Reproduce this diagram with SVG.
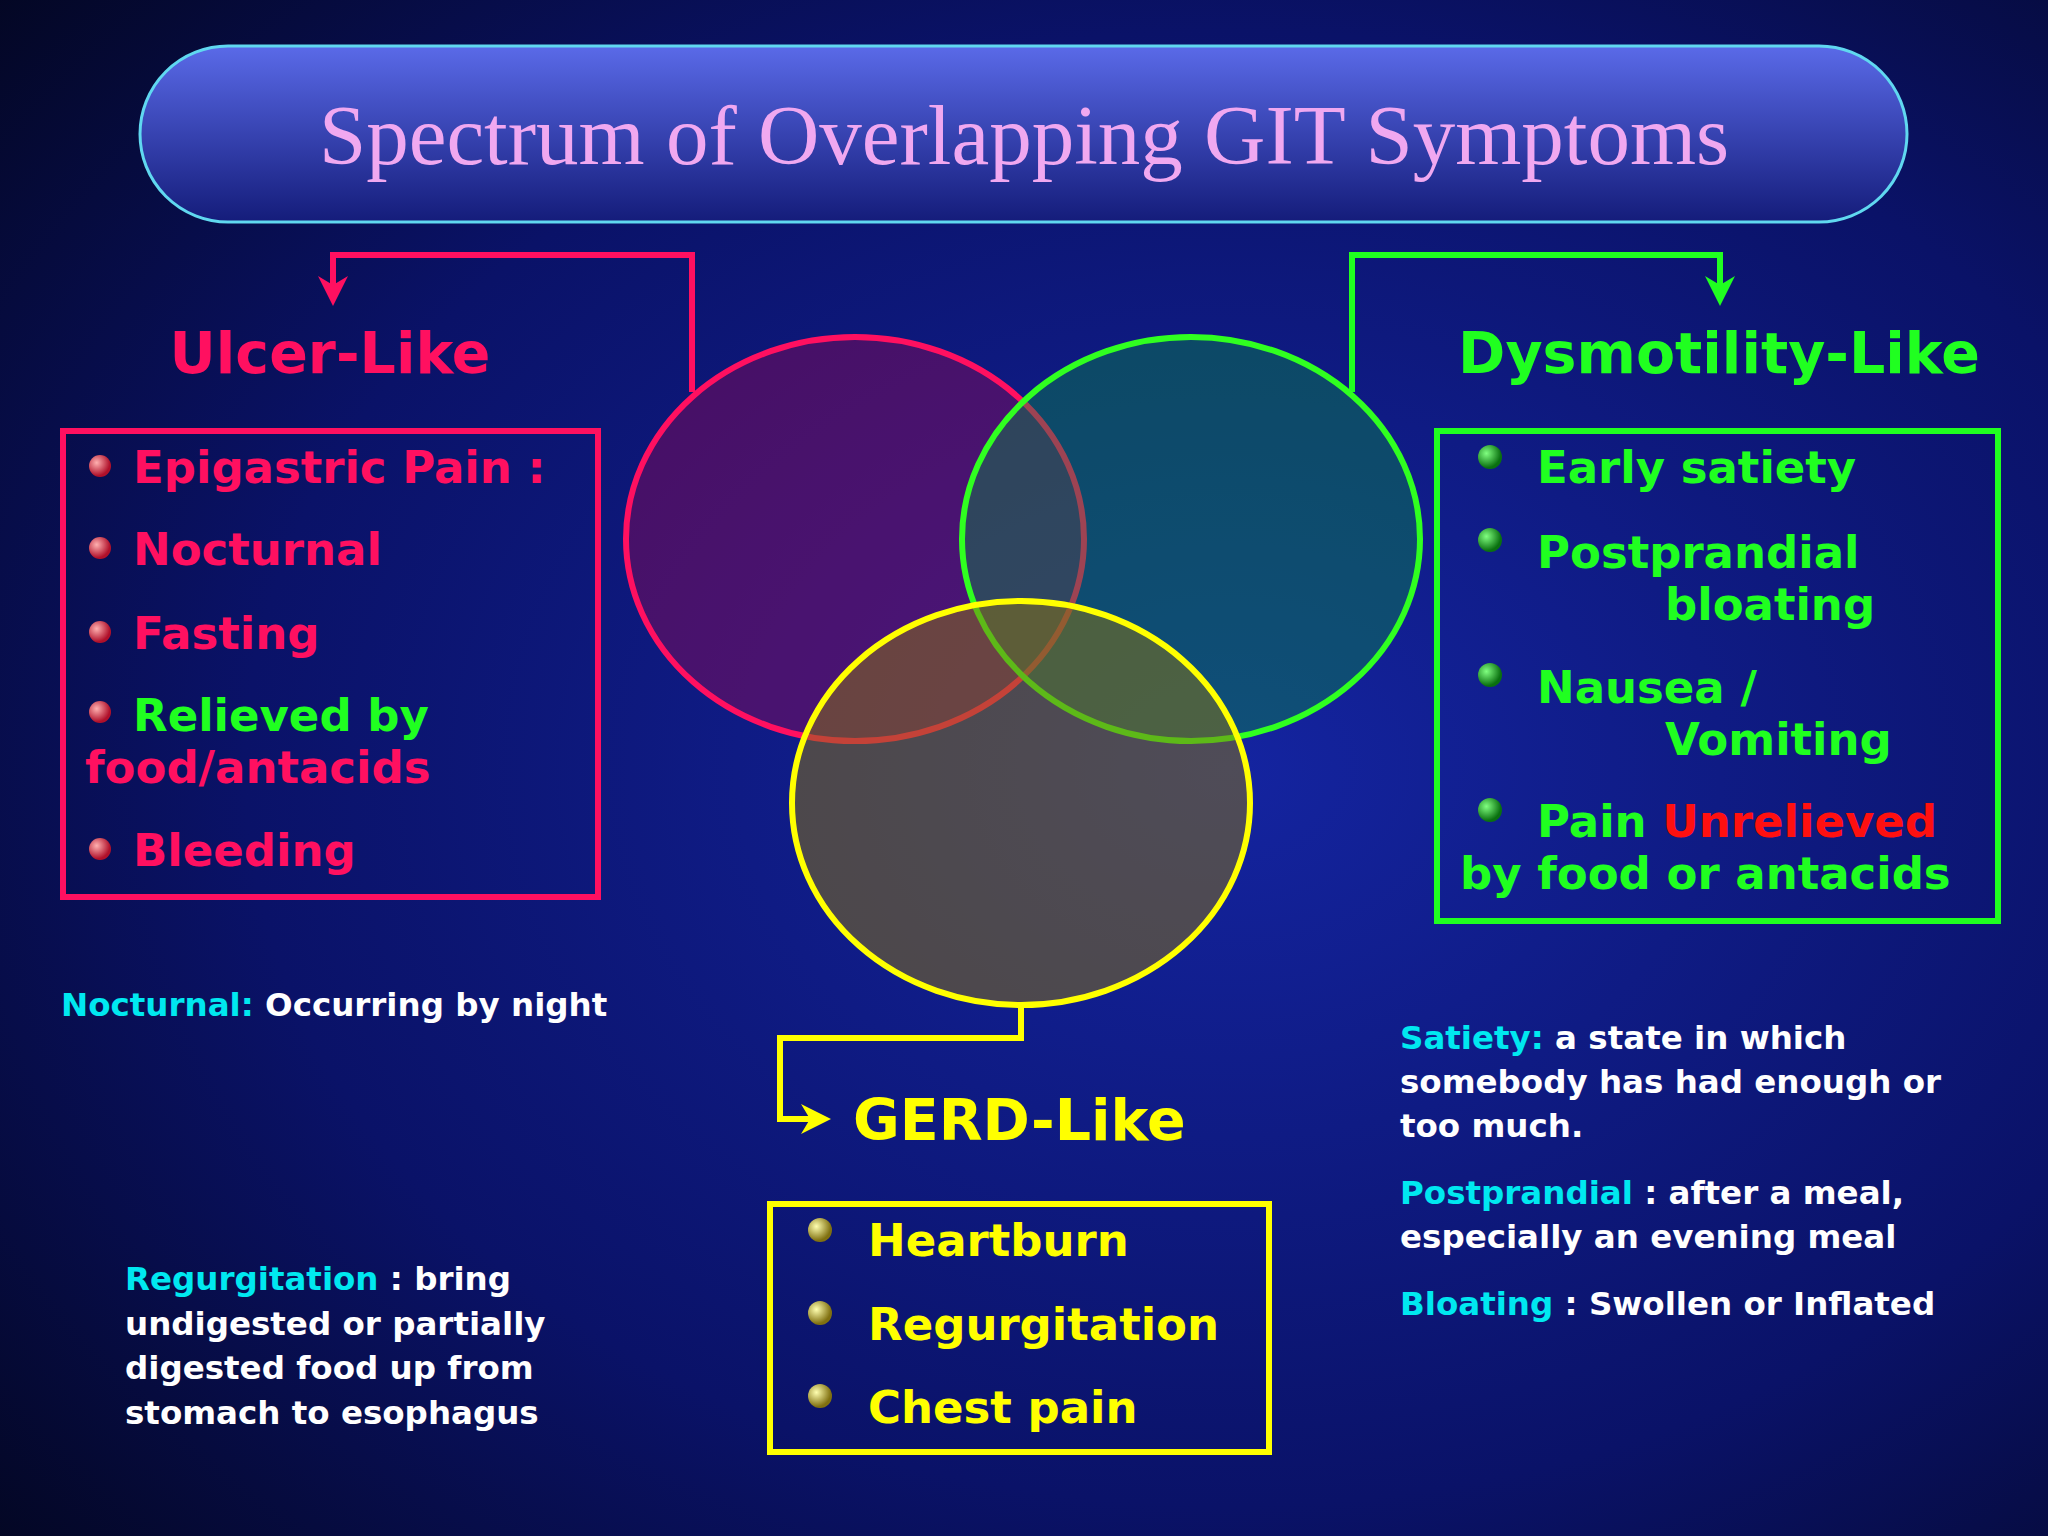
<svg xmlns="http://www.w3.org/2000/svg" width="2048" height="1536" viewBox="0 0 2048 1536">
<defs>
<radialGradient id="bg" cx="0.6" cy="0.5" r="0.8">
<stop offset="0" stop-color="#1424a0"/><stop offset="0.6" stop-color="#0a1268"/><stop offset="1" stop-color="#030620"/>
</radialGradient>
<linearGradient id="pill" x1="0" y1="0" x2="0" y2="1">
<stop offset="0" stop-color="#5a6ae8"/><stop offset="1" stop-color="#141c7a"/>
</linearGradient>
<radialGradient id="rb" cx="0.35" cy="0.35" r="0.6"><stop offset="0" stop-color="#ffb0b0"/><stop offset="1" stop-color="#b0102a"/></radialGradient>
<radialGradient id="gb" cx="0.35" cy="0.35" r="0.6"><stop offset="0" stop-color="#80ff80"/><stop offset="1" stop-color="#0a7010"/></radialGradient>
<radialGradient id="yb" cx="0.35" cy="0.35" r="0.6"><stop offset="0" stop-color="#ffffb0"/><stop offset="1" stop-color="#807010"/></radialGradient>
<marker id="ar" viewBox="0 0 10 10" refX="8" refY="5" markerWidth="5" markerHeight="5" orient="auto"><path d="M0,0 L10,5 L0,10 L3,5 Z" fill="#ff1060"/></marker>
<marker id="ag" viewBox="0 0 10 10" refX="8" refY="5" markerWidth="5" markerHeight="5" orient="auto"><path d="M0,0 L10,5 L0,10 L3,5 Z" fill="#20ff20"/></marker>
<marker id="ay" viewBox="0 0 10 10" refX="8" refY="5" markerWidth="5" markerHeight="5" orient="auto"><path d="M0,0 L10,5 L0,10 L3,5 Z" fill="#ffff00"/></marker>
</defs>
<style>
.t{font-family:"DejaVu Sans",Verdana,sans-serif;font-weight:bold}
.big{font-size:45px}
.sm{font-size:32.5px}
.h{font-size:57px}
.r{fill:#ff1060}.g{fill:#20ff20}.y{fill:#ffff00}.c{fill:#00e8f0}.w{fill:#ffffff}
</style>
<rect width="2048" height="1536" fill="url(#bg)"/>
<g id="title">
<rect x="140" y="46" width="1767" height="176" rx="88" fill="url(#pill)" stroke="#60d8f0" stroke-width="3"/>
<text x="1024" y="164" text-anchor="middle" font-family="Liberation Serif,serif" font-size="85" fill="#f0a8f0">Spectrum of Overlapping GIT Symptoms</text>
</g>
<g id="connectors" fill="none" stroke-width="6">
<polyline points="692,392 692,255 333,255 333,300" stroke="#ff1060" marker-end="url(#ar)"/>
<polyline points="1352,392 1352,255 1720,255 1720,300" stroke="#20ff20" marker-end="url(#ag)"/>
<polyline points="1021,1006 1021,1038 780,1038 780,1119 825,1119" stroke="#ffff00" marker-end="url(#ay)"/>
</g>
<g id="venn" stroke-width="6">
<ellipse cx="855" cy="539" rx="229" ry="202" fill="#a00850" fill-opacity="0.4" stroke="#ff1060"/>
<ellipse cx="1191" cy="539" rx="229" ry="202" fill="#0a9040" fill-opacity="0.4" stroke="#30ff20"/>
<ellipse cx="1021" cy="803" rx="229" ry="202" fill="#8a7410" fill-opacity="0.5" stroke="#ffff00"/>
</g>
<g id="ulcer">
<text x="330" y="373" text-anchor="middle" class="t h r">Ulcer-Like</text>
<rect x="63" y="431" width="535" height="466" fill="none" stroke="#ff1060" stroke-width="6"/>
<circle cx="100" cy="466" r="11" fill="url(#rb)"/><text x="133" y="483" class="t big r">Epigastric Pain :</text>
<circle cx="100" cy="548" r="11" fill="url(#rb)"/><text x="133" y="565" class="t big r">Nocturnal</text>
<circle cx="100" cy="632" r="11" fill="url(#rb)"/><text x="133" y="649" class="t big r">Fasting</text>
<circle cx="100" cy="712" r="11" fill="url(#rb)"/><text x="133" y="731" class="t big g">Relieved by</text>
<text x="85" y="783" class="t big r">food/antacids</text>
<circle cx="100" cy="849" r="11" fill="url(#rb)"/><text x="133" y="866" class="t big r">Bleeding</text>
</g>
<g id="dysmotility">
<text x="1719" y="373" text-anchor="middle" class="t h g">Dysmotility-Like</text>
<rect x="1437" y="431" width="561" height="490" fill="none" stroke="#20ff20" stroke-width="6"/>
<circle cx="1490" cy="457" r="12" fill="url(#gb)"/><text x="1537" y="483" class="t big g">Early satiety</text>
<circle cx="1490" cy="540" r="12" fill="url(#gb)"/><text x="1537" y="568" class="t big g">Postprandial</text>
<text x="1665" y="620" class="t big g">bloating</text>
<circle cx="1490" cy="675" r="12" fill="url(#gb)"/><text x="1537" y="703" class="t big g">Nausea /</text>
<text x="1665" y="755" class="t big g">Vomiting</text>
<circle cx="1490" cy="810" r="12" fill="url(#gb)"/><text x="1537" y="837" class="t big g">Pain <tspan fill="#ff1010">Unrelieved</tspan></text>
<text x="1460" y="889" class="t big g">by food or antacids</text>
</g>
<g id="gerd">
<text x="853" y="1140" class="t h y">GERD-Like</text>
<rect x="770" y="1204" width="499" height="248" fill="none" stroke="#ffff00" stroke-width="6"/>
<circle cx="820" cy="1230" r="12" fill="url(#yb)"/><text x="868" y="1256" class="t big y">Heartburn</text>
<circle cx="820" cy="1313" r="12" fill="url(#yb)"/><text x="868" y="1340" class="t big y">Regurgitation</text>
<circle cx="820" cy="1396" r="12" fill="url(#yb)"/><text x="868" y="1423" class="t big y">Chest pain</text>
</g>
<g id="notes">
<text x="61" y="1016" class="t sm"><tspan class="c">Nocturnal:</tspan><tspan class="w"> Occurring by night</tspan></text>
<text x="1400" y="1049" class="t sm"><tspan class="c">Satiety:</tspan><tspan class="w"> a state in which</tspan></text>
<text x="1400" y="1093" class="t sm w">somebody has had enough or</text>
<text x="1400" y="1137" class="t sm w">too much.</text>
<text x="1400" y="1204" class="t sm"><tspan class="c">Postprandial</tspan><tspan class="w"> : after a meal,</tspan></text>
<text x="1400" y="1248" class="t sm w">especially an evening meal</text>
<text x="1400" y="1315" class="t sm"><tspan class="c">Bloating</tspan><tspan class="w"> : Swollen or Inflated</tspan></text>
<text x="125" y="1290" class="t sm"><tspan class="c">Regurgitation</tspan><tspan class="w"> : bring</tspan></text>
<text x="125" y="1335" class="t sm w">undigested or partially</text>
<text x="125" y="1379" class="t sm w">digested food up from</text>
<text x="125" y="1424" class="t sm w">stomach to esophagus</text>
</g>
</svg>
